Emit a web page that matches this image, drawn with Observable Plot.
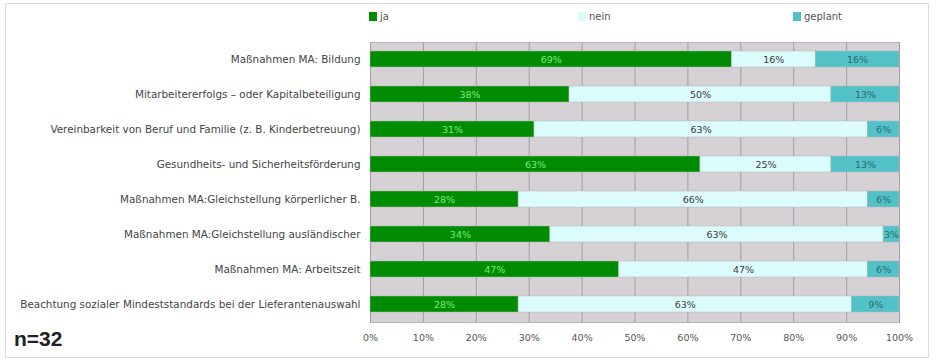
<!DOCTYPE html>
<html>
<head>
<meta charset="utf-8">
<script src="https://cdn.jsdelivr.net/npm/d3@7"></script>
<script src="https://cdn.jsdelivr.net/npm/@observablehq/plot@0.6"></script>
<style>
  html, body { margin: 0; padding: 0; background: #fff; }
  #wrap { position: relative; width: 938px; height: 364px; font-family: "DejaVu Sans", sans-serif; }
  #frame { position: absolute; left: 5px; top: 3px; width: 924px; height: 355px; border: 1px solid #dcdcdc; box-sizing: border-box; }
  .leg { position: absolute; top: 11px; font-size: 10px; color: #555; display: flex; align-items: center; }
  .leg span.sw { display: inline-block; width: 8px; height: 9px; margin-right: 3px; }
  #n { position: absolute; left: 14px; top: 327px; font-family: "Liberation Sans", Arial, sans-serif; font-weight: bold; font-size: 21px; color: #222; }
  #chart { position: absolute; left: 0; top: 0; }
</style>
</head>
<body>
<div id="wrap">
  <div id="frame"></div>
  <div id="chart"></div>
  <div id="legend"></div>
  <div id="n">n=32</div>
</div>
<script>
const categories = [
  "Maßnahmen MA: Bildung",
  "Mitarbeitererfolgs – oder Kapitalbeteiligung",
  "Vereinbarkeit von Beruf und Familie (z. B. Kinderbetreuung)",
  "Gesundheits- und Sicherheitsförderung",
  "Maßnahmen MA:Gleichstellung körperlicher B.",
  "Maßnahmen MA:Gleichstellung ausländischer",
  "Maßnahmen MA: Arbeitszeit",
  "Beachtung sozialer Mindeststandards bei der Lieferantenauswahl"
];
const series = ["ja", "nein", "geplant"];
const ja      = [69, 38, 31, 63, 28, 34, 47, 28];
const nein    = [16, 50, 63, 25, 66, 63, 47, 63];
const geplant = [16, 13, 6, 13, 6, 3, 6, 9];
const xTicks = [0, 0.1, 0.2, 0.3, 0.4, 0.5, 0.6, 0.7, 0.8, 0.9, 1];

const colors = {ja: "#008c00", nein: "#dcfbfb", geplant: "#52c2c8"};
const labelColors = {ja: "#7fe87f", nein: "#3a3a3a", geplant: "#2a6a70"};

const valuesBySeries = {ja, nein, geplant};
const rows = [];
categories.forEach((c, i) => {
  series.forEach(s => rows.push({cat: c, series: s, value: valuesBySeries[s][i]}));
});

const chart = Plot.plot({
  width: 938,
  height: 364,
  marginLeft: 370,
  marginRight: 39,
  marginTop: 42,
  marginBottom: 42,
  style: {background: "transparent", fontFamily: "DejaVu Sans, sans-serif"},
  x: {domain: [0, 1], ticks: xTicks, tickFormat: d3.format(".0%"), label: null, tickSize: 0, tickPadding: 12},
  y: {domain: categories, label: null, paddingInner: 0.54, paddingOuter: 0.27, tickSize: 0, tickPadding: 10},
  color: {domain: series, range: series.map(s => colors[s])},
  marks: [
    Plot.frame({fill: "#d5d1d5", stroke: "#b8b4b8"}),
    Plot.ruleX(xTicks, {stroke: "#a29ea2", strokeWidth: 1}),
    Plot.barX(rows, Plot.stackX({offset: "normalize", order: series, x: "value", y: "cat", fill: "series", stroke: "#b8b8b8", strokeWidth: 0.5})),
    Plot.text(rows, Plot.stackX({offset: "normalize", order: series, x: "value", y: "cat", z: "series",
      text: d => d.value + "%", fill: d => labelColors[d.series], fontSize: 9.5})),
    Plot.axisX({ticks: xTicks, tickFormat: d3.format(".0%"), tickSize: 0, tickPadding: 12, fontSize: 9.5, color: "#555", label: null}),
    Plot.axisY({tickSize: 0, tickPadding: 10, fontSize: 10.4, color: "#444", label: null})
  ]
});
document.getElementById("chart").appendChild(chart);

const legend = document.getElementById("legend");
const legPos = {ja: 369, nein: 578, geplant: 793};
series.forEach(s => {
  const d = document.createElement("div");
  d.className = "leg";
  d.style.left = legPos[s] + "px";
  d.innerHTML = `<span class="sw" style="background:${colors[s]}"></span>${s}`;
  legend.appendChild(d);
});
</script>
</body>
</html>
